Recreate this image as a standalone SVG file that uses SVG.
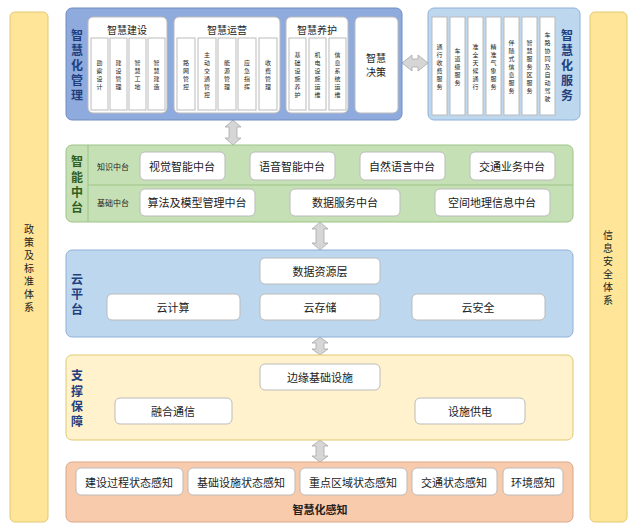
<svg xmlns="http://www.w3.org/2000/svg" width="636" height="530" viewBox="0 0 636 530">
<style>
text{font-family:"Noto Sans CJK SC","Liberation Sans",sans-serif;fill:#222;text-anchor:middle;dominant-baseline:central}
.w{fill:#fff;stroke:#bbb;stroke-width:1}
.s{font-size:6px}
.m{font-size:11px}
.l{font-size:12px;font-weight:bold;fill:#1f3f7f}
.t{font-size:10px}
.ar{fill:#d6d6d6;stroke:#aaa;stroke-width:.8}
</style>
<rect width="636" height="530" fill="#fff"/>
<g id="policy"><rect x="10" y="12" width="38" height="510" rx="5" fill="#FFE597" stroke="#e0c870"/><text class="t" x="29" y="228">政<tspan x="29" dy="13">策</tspan><tspan x="29" dy="13">及</tspan><tspan x="29" dy="13">标</tspan><tspan x="29" dy="13">准</tspan><tspan x="29" dy="13">体</tspan><tspan x="29" dy="13">系</tspan></text></g>
<g id="security"><rect x="590" y="12" width="37" height="510" rx="5" fill="#FFE597" stroke="#e0c870"/><text class="t" x="608" y="234">信<tspan x="608" dy="13">息</tspan><tspan x="608" dy="13">安</tspan><tspan x="608" dy="13">全</tspan><tspan x="608" dy="13">体</tspan><tspan x="608" dy="13">系</tspan></text></g>
<g id="connectors">
<path class="ar" d="M402,63 l10,-8 v4 h6 v-4 l10,8 l-10,8 v-4 h-6 v4 z"/>
<path class="ar" d="M233,120 l8,7 h-4 v11 h4 l-8,7 l-8,-7 h4 v-11 h-4 l8,-7 z"/>
<path class="ar" d="M320,222 l8,7 h-4 v14 h4 l-8,7 l-8,-7 h4 v-14 h-4 l8,-7 z"/>
<path class="ar" d="M320,337 l8,6 h-4 v6 h4 l-8,6 l-8,-6 h4 v-6 h-4 l8,-6 z"/>
<path class="ar" d="M320,440 l8,6 h-4 v10 h4 l-8,6 l-8,-6 h4 v-10 h-4 l8,-6 z"/>
</g>
<g id="mgmt">
<rect x="66" y="8" width="336" height="112" rx="6" fill="#8FAADC" stroke="#6f8cc4"/>
<text class="l" x="77" y="34">智<tspan x="77" dy="15">慧</tspan><tspan x="77" dy="15">化</tspan><tspan x="77" dy="15">管</tspan><tspan x="77" dy="15">理</tspan></text>
<rect class="w" x="88" y="17" width="79" height="96" rx="5"/><text class="t" x="127" y="29">智慧建设</text>
<rect class="w" x="174" y="17" width="106" height="96" rx="5"/><text class="t" x="227" y="29">智慧运营</text>
<rect class="w" x="286" y="17" width="62" height="96" rx="5"/><text class="t" x="317" y="29">智慧养护</text>
<rect class="w" x="355" y="17" width="43" height="96" rx="5"/><text class="t" x="376" y="57">智慧</text><text class="t" x="376" y="71">决策</text>
<rect class="w" x="91" y="38" width="17" height="72"/><text class="s" x="99.5" y="62">勘<tspan x="99.5" dy="8">察</tspan><tspan x="99.5" dy="8">设</tspan><tspan x="99.5" dy="8">计</tspan></text>
<rect class="w" x="110" y="38" width="17" height="72"/><text class="s" x="118.5" y="62">建<tspan x="118.5" dy="8">设</tspan><tspan x="118.5" dy="8">管</tspan><tspan x="118.5" dy="8">理</tspan></text>
<rect class="w" x="129" y="38" width="17" height="72"/><text class="s" x="137.5" y="62">智<tspan x="137.5" dy="8">慧</tspan><tspan x="137.5" dy="8">工</tspan><tspan x="137.5" dy="8">地</tspan></text>
<rect class="w" x="148" y="38" width="17" height="72"/><text class="s" x="156.5" y="62">智<tspan x="156.5" dy="8">慧</tspan><tspan x="156.5" dy="8">建</tspan><tspan x="156.5" dy="8">造</tspan></text>
<rect class="w" x="177" y="38" width="18" height="72"/><text class="s" x="186" y="62">路<tspan x="186" dy="8">网</tspan><tspan x="186" dy="8">管</tspan><tspan x="186" dy="8">控</tspan></text>
<rect class="w" x="198" y="38" width="18" height="72"/><text class="s" x="207" y="54">主<tspan x="207" dy="8">动</tspan><tspan x="207" dy="8">交</tspan><tspan x="207" dy="8">通</tspan><tspan x="207" dy="8">管</tspan><tspan x="207" dy="8">控</tspan></text>
<rect class="w" x="218" y="38" width="18" height="72"/><text class="s" x="227" y="62">能<tspan x="227" dy="8">源</tspan><tspan x="227" dy="8">管</tspan><tspan x="227" dy="8">理</tspan></text>
<rect class="w" x="238" y="38" width="18" height="72"/><text class="s" x="247" y="62">应<tspan x="247" dy="8">急</tspan><tspan x="247" dy="8">指</tspan><tspan x="247" dy="8">挥</tspan></text>
<rect class="w" x="259" y="38" width="18" height="72"/><text class="s" x="268" y="62">收<tspan x="268" dy="8">费</tspan><tspan x="268" dy="8">管</tspan><tspan x="268" dy="8">理</tspan></text>
<rect class="w" x="289" y="38" width="17" height="72"/><text class="s" x="297.5" y="54">基<tspan x="297.5" dy="8">础</tspan><tspan x="297.5" dy="8">设</tspan><tspan x="297.5" dy="8">施</tspan><tspan x="297.5" dy="8">养</tspan><tspan x="297.5" dy="8">护</tspan></text>
<rect class="w" x="309" y="38" width="17" height="72"/><text class="s" x="317.5" y="54">机<tspan x="317.5" dy="8">电</tspan><tspan x="317.5" dy="8">设</tspan><tspan x="317.5" dy="8">施</tspan><tspan x="317.5" dy="8">运</tspan><tspan x="317.5" dy="8">维</tspan></text>
<rect class="w" x="329" y="38" width="17" height="72"/><text class="s" x="337.5" y="54">信<tspan x="337.5" dy="8">息</tspan><tspan x="337.5" dy="8">系</tspan><tspan x="337.5" dy="8">统</tspan><tspan x="337.5" dy="8">运</tspan><tspan x="337.5" dy="8">维</tspan></text>
</g>
<g id="service">
<rect x="428" y="8" width="152" height="112" rx="6" fill="#BDD7EE" stroke="#8fb0d8"/>
<text class="l" x="567" y="34">智<tspan x="567" dy="15">慧</tspan><tspan x="567" dy="15">化</tspan><tspan x="567" dy="15">服</tspan><tspan x="567" dy="15">务</tspan></text>
<rect class="w" x="432" y="17" width="15" height="98"/><text class="s" x="439.5" y="46">通<tspan x="439.5" dy="8">行</tspan><tspan x="439.5" dy="8">收</tspan><tspan x="439.5" dy="8">费</tspan><tspan x="439.5" dy="8">服</tspan><tspan x="439.5" dy="8">务</tspan></text>
<rect class="w" x="450" y="17" width="15" height="98"/><text class="s" x="457.5" y="50">车<tspan x="457.5" dy="8">道</tspan><tspan x="457.5" dy="8">级</tspan><tspan x="457.5" dy="8">服</tspan><tspan x="457.5" dy="8">务</tspan></text>
<rect class="w" x="468" y="17" width="15" height="98"/><text class="s" x="475.5" y="46">准<tspan x="475.5" dy="8">全</tspan><tspan x="475.5" dy="8">天</tspan><tspan x="475.5" dy="8">候</tspan><tspan x="475.5" dy="8">通</tspan><tspan x="475.5" dy="8">行</tspan></text>
<rect class="w" x="486" y="17" width="15" height="98"/><text class="s" x="493.5" y="46">精<tspan x="493.5" dy="8">准</tspan><tspan x="493.5" dy="8">气</tspan><tspan x="493.5" dy="8">象</tspan><tspan x="493.5" dy="8">服</tspan><tspan x="493.5" dy="8">务</tspan></text>
<rect class="w" x="504" y="17" width="15" height="98"/><text class="s" x="511.5" y="42">伴<tspan x="511.5" dy="8">随</tspan><tspan x="511.5" dy="8">式</tspan><tspan x="511.5" dy="8">信</tspan><tspan x="511.5" dy="8">息</tspan><tspan x="511.5" dy="8">服</tspan><tspan x="511.5" dy="8">务</tspan></text>
<rect class="w" x="522" y="17" width="15" height="98"/><text class="s" x="529.5" y="42">智<tspan x="529.5" dy="8">慧</tspan><tspan x="529.5" dy="8">服</tspan><tspan x="529.5" dy="8">务</tspan><tspan x="529.5" dy="8">区</tspan><tspan x="529.5" dy="8">服</tspan><tspan x="529.5" dy="8">务</tspan></text>
<rect class="w" x="540" y="17" width="15" height="98"/><text class="s" x="547.5" y="34">车<tspan x="547.5" dy="8">路</tspan><tspan x="547.5" dy="8">协</tspan><tspan x="547.5" dy="8">同</tspan><tspan x="547.5" dy="8">及</tspan><tspan x="547.5" dy="8">自</tspan><tspan x="547.5" dy="8">动</tspan><tspan x="547.5" dy="8">驾</tspan><tspan x="547.5" dy="8">驶</tspan></text>
</g>
<g id="zhongtai">
<rect x="66" y="145" width="507" height="77" rx="6" fill="#C5E0B4" stroke="#9cc487"/>
<text class="l" x="77" y="160.5" style="fill:#2f5f1f">智<tspan x="77" dy="15">能</tspan><tspan x="77" dy="15">中</tspan><tspan x="77" dy="15">台</tspan></text>
<line x1="88" y1="185" x2="573" y2="185" stroke="#9cc487"/>
<line x1="88" y1="145" x2="88" y2="222" stroke="#9cc487"/>
<text x="113" y="166" style="font-size:8px">知识中台</text>
<text x="113" y="202" style="font-size:8px">基础中台</text>
<rect class="w" x="140" y="152" width="85" height="28" rx="5"/><text class="m" x="182" y="166">视觉智能中台</text>
<rect class="w" x="250" y="152" width="85" height="28" rx="5"/><text class="m" x="292" y="166">语音智能中台</text>
<rect class="w" x="360" y="152" width="85" height="28" rx="5"/><text class="m" x="402" y="166">自然语言中台</text>
<rect class="w" x="470" y="152" width="85" height="28" rx="5"/><text class="m" x="512" y="166">交通业务中台</text>
<rect class="w" x="140" y="189" width="115" height="27" rx="5"/><text class="m" x="197" y="202">算法及模型管理中台</text>
<rect class="w" x="290" y="189" width="110" height="27" rx="5"/><text class="m" x="345" y="202">数据服务中台</text>
<rect class="w" x="435" y="189" width="115" height="27" rx="5"/><text class="m" x="492" y="202">空间地理信息中台</text>
</g>
<g id="cloud">
<rect x="66" y="250" width="507" height="87" rx="6" fill="#BDD7EE" stroke="#8fb0d8"/>
<text class="l" x="77" y="278">云<tspan x="77" dy="15">平</tspan><tspan x="77" dy="15">台</tspan></text>
<rect class="w" x="260" y="258" width="120" height="26" rx="5"/><text class="m" x="320" y="271">数据资源层</text>
<rect class="w" x="107" y="294" width="133" height="26" rx="5"/><text class="m" x="173" y="307">云计算</text>
<rect class="w" x="260" y="294" width="120" height="26" rx="5"/><text class="m" x="320" y="307">云存储</text>
<rect class="w" x="412" y="294" width="133" height="26" rx="5"/><text class="m" x="478" y="307">云安全</text>
</g>
<g id="support">
<rect x="66" y="355" width="507" height="85" rx="6" fill="#FFF2CC" stroke="#e0c870"/>
<text class="l" x="77" y="374.5">支<tspan x="77" dy="15">撑</tspan><tspan x="77" dy="15">保</tspan><tspan x="77" dy="15">障</tspan></text>
<rect class="w" x="260" y="364" width="120" height="26" rx="5"/><text class="m" x="320" y="377">边缘基础设施</text>
<rect class="w" x="115" y="398" width="117" height="26" rx="5"/><text class="m" x="173" y="411">融合通信</text>
<rect class="w" x="415" y="398" width="110" height="26" rx="5"/><text class="m" x="470" y="411">设施供电</text>
</g>
<g id="perception">
<rect x="66" y="462" width="507" height="60" rx="6" fill="#F8CBAD" stroke="#d8a888"/>
<rect class="w" x="76" y="468" width="107" height="27" rx="5"/><text class="m" x="129" y="482">建设过程状态感知</text>
<rect class="w" x="188" y="468" width="107" height="27" rx="5"/><text class="m" x="241" y="482">基础设施状态感知</text>
<rect class="w" x="300" y="468" width="107" height="27" rx="5"/><text class="m" x="353" y="482">重点区域状态感知</text>
<rect class="w" x="412" y="468" width="85" height="27" rx="5"/><text class="m" x="454" y="482">交通状态感知</text>
<rect class="w" x="503" y="468" width="60" height="27" rx="5"/><text class="m" x="533" y="482">环境感知</text>
<text class="m" x="320" y="509" style="font-weight:bold">智慧化感知</text>
</g>
</svg>
